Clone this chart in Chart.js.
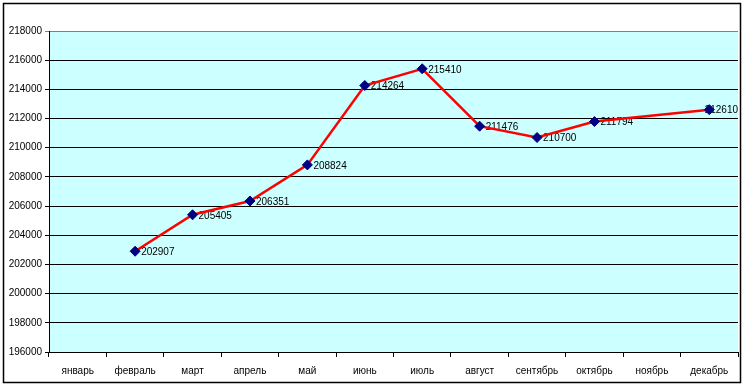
<!DOCTYPE html>
<html>
<head>
<meta charset="utf-8">
<script src="https://cdn.jsdelivr.net/npm/chart.js@4"></script>
<style>
  html, body { margin: 0; padding: 0; background: #fff; }
  #wrap { width: 744px; height: 387px; }
</style>
</head>
<body>
<div id="wrap"><canvas id="lineChart" width="744" height="387"></canvas></div>
<script>
  // data
  var months = ["январь", "февраль", "март", "апрель", "май", "июнь",
    "июль", "август", "сентябрь", "октябрь", "ноябрь", "декабрь"];
  var values = [null, 202907, 205405, 206351, 208824, 214264,
    215410, 211476, 210700, 211794, null, 212610];
  var yMin = 196000, yMax = 218000, yStep = 2000;

  var font = "'Liberation Sans', Arial, sans-serif";

  // frame + plot background
  var framePlugin = {
    id: "frame",
    beforeDraw: function (chart) {
      var c = chart.ctx, a = chart.chartArea;
      c.save();
      c.fillStyle = "#ffffff";
      c.fillRect(0, 0, chart.width, chart.height);
      c.fillStyle = "#ccffff";
      c.fillRect(a.left, a.top, a.right - a.left, a.bottom - a.top);
      c.restore();
    },
    afterDraw: function (chart) {
      var c = chart.ctx;
      c.save();
      c.strokeStyle = "#000";
      c.lineWidth = 1.5;
      c.strokeRect(3.5, 3.5, 737, 379);
      c.restore();
    }
  };

  // value labels next to the points, under the line
  var labelPlugin = {
    id: "pointLabels",
    beforeDatasetsDraw: function (chart) {
      var c = chart.ctx, a = chart.chartArea;
      var meta = chart.getDatasetMeta(0);
      c.save();
      c.font = "10px " + font;
      c.fillStyle = "#000";
      c.textBaseline = "middle";
      meta.data.forEach(function (pt, i) {
        var v = values[i];
        if (v === null) return;
        var txt = String(v);
        var x = pt.x + 6;
        var w = c.measureText(txt).width;
        if (x + w > a.right) x = a.right - w;
        c.fillText(txt, x, pt.y + 1);
      });
      c.restore();
    }
  };

  var ctx = document.getElementById("lineChart");
  new Chart(ctx, {
    type: "line",
    data: {
      labels: months,
      datasets: [{
        data: values,
        borderColor: "#ff0000",
        borderWidth: 2.5,
        pointStyle: "rectRot",
        pointRadius: 5,
        pointBackgroundColor: "#000080",
        pointBorderColor: "#000080",
        pointBorderWidth: 1,
        spanGaps: true,
        tension: 0
      }]
    },
    plugins: [framePlugin, labelPlugin],
    options: {
      responsive: false,
      animation: false,
      events: [],
      layout: { padding: { left: 0, right: 4, top: 31, bottom: 0 } },
      plugins: {
        legend: { display: false },
        tooltip: { enabled: false }
      },
      scales: {
        x: {
          offset: true,
          afterFit: function (s) { s.height = 35; },
          border: { color: "#000", width: 1 },
          grid: {
            offset: true,
            drawOnChartArea: false,
            drawTicks: true,
            tickLength: 5,
            color: "#000"
          },
          ticks: {
            color: "#000",
            padding: 8,
            maxRotation: 0,
            autoSkip: false,
            font: { family: font, size: 10 }
          }
        },
        y: {
          min: yMin,
          max: yMax,
          afterFit: function (s) { s.width = 49; },
          border: { color: "#000", width: 1 },
          grid: {
            color: function (c) {
              return c.tick && c.tick.value === yMax ? "#808080" : "#000";
            },
            tickLength: 4,
            lineWidth: 1
          },
          ticks: {
            stepSize: yStep,
            color: "#000",
            padding: 3,
            font: { family: font, size: 10 },
            callback: function (v) { return String(v); }
          }
        }
      }
    }
  });
</script>
</body>
</html>
